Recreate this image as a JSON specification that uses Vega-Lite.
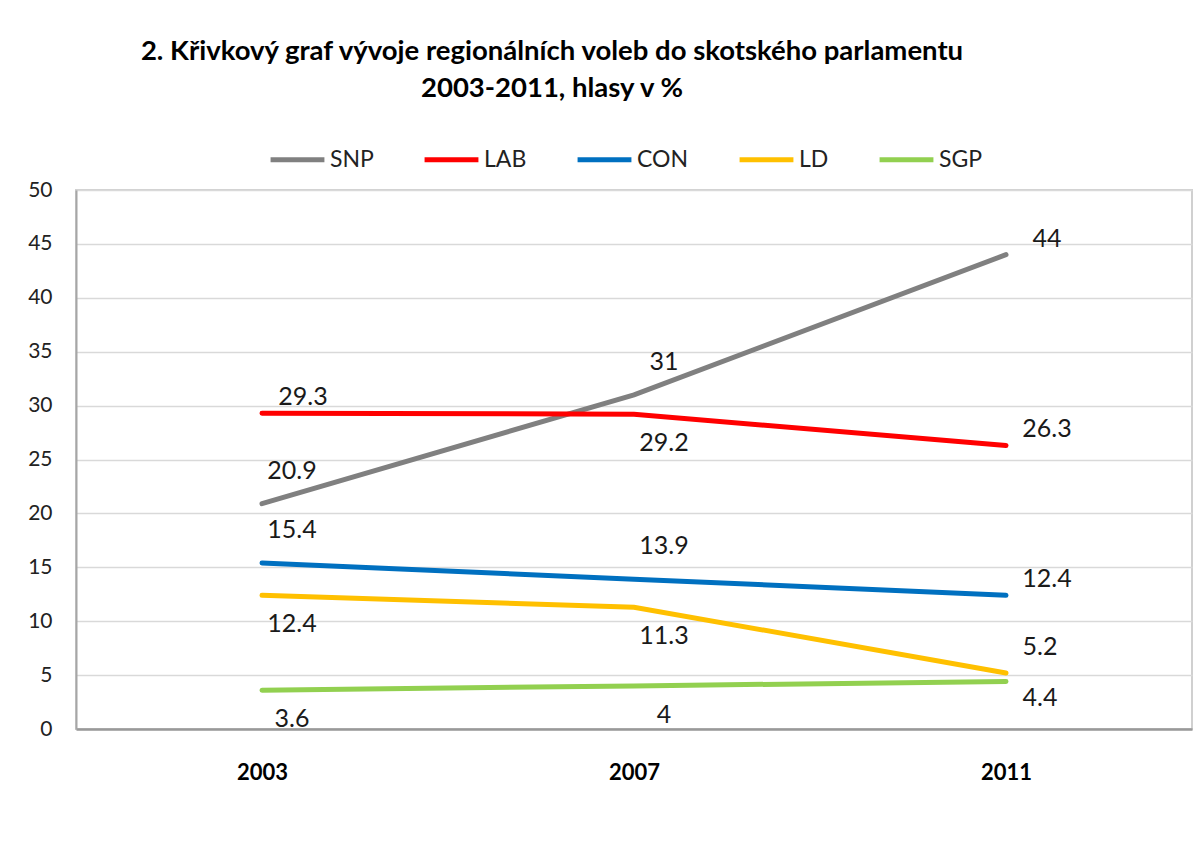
{
  "$schema": "https://vega.github.io/schema/vega-lite/v6.json",
  "width": 1116,
  "height": 539,
  "autosize": "none",
  "padding": {"left": 76, "top": 190, "right": 7, "bottom": 127},
  "background": "white",
  "title": {
    "text": ["2. Křivkový graf vývoje regionálních voleb do skotského parlamentu", "2003-2011, hlasy v %"],
    "font": "Lato",
    "fontSize": 27.5,
    "fontWeight": "bold",
    "color": "black",
    "anchor": "middle",
    "frame": "group",
    "dx": -82,
    "offset": 28,
    "lineHeight": 37
  },
  "config": {
    "view": {"stroke": "#d0d0d0", "strokeWidth": 2},
    "font": "Lato"
  },
  "data": {
    "values": [
      {"party": "SNP", "year": "2003", "value": 20.9},
      {"party": "SNP", "year": "2007", "value": 31},
      {"party": "SNP", "year": "2011", "value": 44},
      {"party": "LAB", "year": "2003", "value": 29.3},
      {"party": "LAB", "year": "2007", "value": 29.2},
      {"party": "LAB", "year": "2011", "value": 26.3},
      {"party": "CON", "year": "2003", "value": 15.4},
      {"party": "CON", "year": "2007", "value": 13.9},
      {"party": "CON", "year": "2011", "value": 12.4},
      {"party": "LD", "year": "2003", "value": 12.4},
      {"party": "LD", "year": "2007", "value": 11.3},
      {"party": "LD", "year": "2011", "value": 5.2},
      {"party": "SGP", "year": "2003", "value": 3.6},
      {"party": "SGP", "year": "2007", "value": 4},
      {"party": "SGP", "year": "2011", "value": 4.4}
    ]
  },
  "encoding": {
    "x": {
      "field": "year",
      "type": "ordinal",
      "scale": {"type": "point", "padding": 0.5},
      "axis": {
        "title": null,
        "labelAngle": 0,
        "labelFont": "Lato",
        "labelFontSize": 22,
        "labelFontWeight": "bold",
        "labelColor": "black",
        "labelPadding": 33,
        "ticks": false,
        "domainColor": "#999999",
        "domainWidth": 2.5,
        "grid": false
      }
    },
    "y": {
      "field": "value",
      "type": "quantitative",
      "scale": {"domain": [0, 50], "nice": false},
      "axis": {
        "title": null,
        "values": [0, 5, 10, 15, 20, 25, 30, 35, 40, 45, 50],
        "labelFont": "Lato",
        "labelFontSize": 21,
        "labelColor": "#222222",
        "labelPadding": 24,
        "ticks": false,
        "domainColor": "#a6a6a6",
        "domainWidth": 2,
        "grid": true,
        "gridColor": "#d9d9d9",
        "gridWidth": 1.5
      }
    }
  },
  "layer": [
    {
      "mark": {"type": "line", "strokeWidth": 5, "strokeCap": "round", "interpolate": "linear"},
      "encoding": {
        "color": {
          "field": "party",
          "type": "nominal",
          "scale": {
            "domain": ["SNP", "LAB", "CON", "LD", "SGP"],
            "range": ["#808080", "#ff0000", "#0070c0", "#ffc000", "#92d050"]
          },
          "legend": {
            "title": null,
            "orient": "none",
            "direction": "horizontal",
            "legendX": 192,
            "legendY": -60,
            "symbolType": "stroke",
            "symbolSize": 2900,
            "symbolStrokeWidth": 5,
            "labelFont": "Lato",
            "labelFontSize": 23,
            "labelColor": "#222222",
            "labelOffset": 3,
            "columnPadding": 40
          }
        }
      }
    },
    {
      "transform": [{"filter": "indexof(['SNP2003','SNP2007','CON2003','CON2007'], datum.party + datum.year) >= 0"}],
      "mark": {"type": "text", "font": "Lato", "fontSize": 25, "color": "#1a1a1a", "dx": 30, "dy": -33, "align": "center", "baseline": "middle"},
      "encoding": {"text": {"field": "value", "type": "quantitative"}}
    },
    {
      "transform": [{"filter": "indexof(['LAB2007','LD2003','LD2007','SGP2003','SGP2007'], datum.party + datum.year) >= 0"}],
      "mark": {"type": "text", "font": "Lato", "fontSize": 25, "color": "#1a1a1a", "dx": 30, "dy": 29, "align": "center", "baseline": "middle"},
      "encoding": {"text": {"field": "value", "type": "quantitative"}}
    },
    {
      "transform": [{"filter": "indexof(['SNP2011','LAB2011','CON2011','LAB2003'], datum.party + datum.year) >= 0"}],
      "mark": {"type": "text", "font": "Lato", "fontSize": 25, "color": "#1a1a1a", "dx": 41, "dy": -16, "align": "center", "baseline": "middle"},
      "encoding": {"text": {"field": "value", "type": "quantitative"}}
    },
    {
      "transform": [{"filter": "datum.party == 'LD' && datum.year == '2011'"}],
      "mark": {"type": "text", "font": "Lato", "fontSize": 25, "color": "#1a1a1a", "dx": 34, "dy": -26, "align": "center", "baseline": "middle"},
      "encoding": {"text": {"field": "value", "type": "quantitative"}}
    },
    {
      "transform": [{"filter": "datum.party == 'SGP' && datum.year == '2011'"}],
      "mark": {"type": "text", "font": "Lato", "fontSize": 25, "color": "#1a1a1a", "dx": 34, "dy": 16, "align": "center", "baseline": "middle"},
      "encoding": {"text": {"field": "value", "type": "quantitative"}}
    }
  ]
}
